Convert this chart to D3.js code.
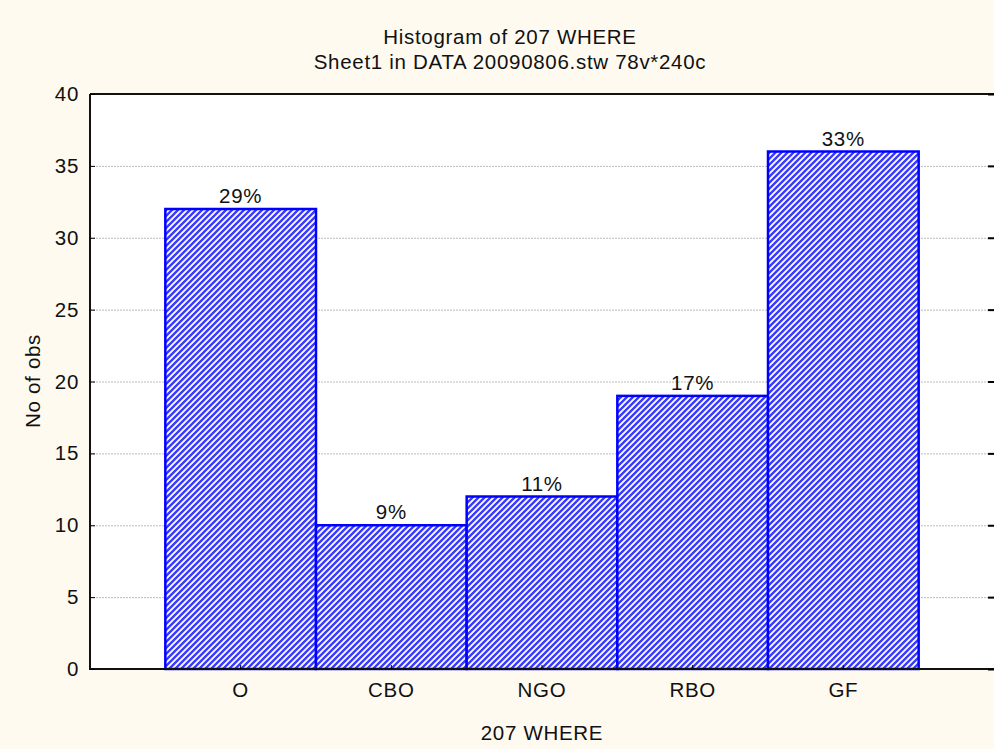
<!DOCTYPE html>
<html>
<head>
<meta charset="utf-8">
<script src="https://cdn.jsdelivr.net/npm/d3@7"></script>
<style>
  body { margin: 0; background: #fffaf0; }
  text { font-family: "Liberation Sans", Arial, sans-serif; fill: #111; letter-spacing: 0.7px; }
</style>
</head>
<body>
<div id="chart"></div>
<script>
var categories = ["O", "CBO", "NGO", "RBO", "GF"];
var counts = [32, 10, 12, 19, 36];
var percents = ["29%", "9%", "11%", "17%", "33%"];
var yTicks = [0, 5, 10, 15, 20, 25, 30, 35, 40];

var svgWidth = 994;
var svgHeight = 749;
var fontSize = "20.5px";

var margin = { top: 94, right: 0, bottom: 80, left: 90 };
var width = svgWidth - margin.left - margin.right;
var height = svgHeight - margin.top - margin.bottom;

var svg = d3.select("#chart")
    .append("svg")
    .attr("width", svgWidth)
    .attr("height", svgHeight);

svg.append("rect")
    .attr("width", svgWidth)
    .attr("height", svgHeight)
    .attr("fill", "#fffaf0");

// hatch pattern
var defs = svg.append("defs");
var pat = defs.append("pattern")
    .attr("id", "hatch")
    .attr("patternUnits", "userSpaceOnUse")
    .attr("width", 6)
    .attr("height", 6);
pat.append("rect").attr("width", 6).attr("height", 6).attr("fill", "#ffffff");
pat.append("path")
    .attr("d", "M-1,1 l2,-2 M0,6 l6,-6 M5,7 l2,-2")
    .attr("stroke", "#3a3aff")
    .attr("stroke-width", 2.4);

var chartGroup = svg.append("g")
    .attr("transform", `translate(${margin.left}, ${margin.top})`);

var xScale = d3.scaleBand()
    .domain(categories)
    .range([0, width])
    .paddingInner(0)
    .paddingOuter(0.5);

var yScale = d3.scaleLinear()
    .domain([0, 40])
    .range([height, 0]);

chartGroup.append("rect")
    .attr("width", width)
    .attr("height", height)
    .attr("fill", "#ffffff");

// grid
chartGroup.selectAll(".grid")
    .data(yTicks.filter(d => d > 0 && d < 40))
    .enter()
    .append("line")
    .attr("x1", 0)
    .attr("x2", width)
    .attr("y1", d => yScale(d) + 0.5)
    .attr("y2", d => yScale(d) + 0.5)
    .attr("stroke", "#bbbbbb")
    .attr("stroke-dasharray", "2,1");

// bars
chartGroup.selectAll(".bar")
    .data(categories)
    .enter()
    .append("rect")
    .attr("x", d => xScale(d))
    .attr("y", (d, i) => yScale(counts[i]))
    .attr("width", xScale.bandwidth())
    .attr("height", (d, i) => height - yScale(counts[i]))
    .attr("fill", "url(#hatch)")
    .attr("stroke", "#0000ff")
    .attr("stroke-width", 2.5);

// percent labels
chartGroup.selectAll(".pct")
    .data(categories)
    .enter()
    .append("text")
    .attr("x", d => xScale(d) + xScale.bandwidth() / 2)
    .attr("y", (d, i) => yScale(counts[i]) - 6)
    .attr("text-anchor", "middle")
    .attr("font-size", fontSize)
    .text((d, i) => percents[i]);

// frame
chartGroup.append("path")
    .attr("d", `M0,0 H${width} M0,0 V${height} H${width}`)
    .attr("fill", "none")
    .attr("stroke", "#111")
    .attr("stroke-width", 2);

// y axis (ticks inward)
var leftAxis = d3.axisLeft(yScale)
    .tickValues(yTicks)
    .tickSize(-5)
    .tickPadding(11);
var yAxisG = chartGroup.append("g").call(leftAxis);
yAxisG.select(".domain").remove();
yAxisG.selectAll("text")
    .attr("font-size", fontSize)
    .attr("font-family", "Liberation Sans, Arial, sans-serif")
    .attr("fill", "#111");

// right ticks
var rightAxis = d3.axisRight(yScale)
    .tickValues(yTicks)
    .tickSize(-6)
    .tickFormat("");
var rAxisG = chartGroup.append("g")
    .attr("transform", `translate(${width}, 0)`)
    .call(rightAxis);
rAxisG.select(".domain").remove();
rAxisG.selectAll("line").attr("stroke-width", 2);

// x axis (ticks inward)
var bottomAxis = d3.axisBottom(xScale)
    .tickSize(-4)
    .tickPadding(13);
var xAxisG = chartGroup.append("g")
    .attr("transform", `translate(0, ${height})`)
    .call(bottomAxis);
xAxisG.select(".domain").remove();
xAxisG.selectAll("text")
    .attr("font-size", fontSize)
    .attr("font-family", "Liberation Sans, Arial, sans-serif")
    .attr("fill", "#111");

// titles
svg.append("text")
    .attr("x", 510)
    .attr("y", 44)
    .attr("text-anchor", "middle")
    .attr("font-size", fontSize)
    .text("Histogram of 207 WHERE");

svg.append("text")
    .attr("x", 510)
    .attr("y", 69)
    .attr("text-anchor", "middle")
    .attr("font-size", fontSize)
    .text("Sheet1 in DATA 20090806.stw 78v*240c");

svg.append("text")
    .attr("transform", "rotate(-90)")
    .attr("x", -381)
    .attr("y", 40)
    .attr("text-anchor", "middle")
    .attr("font-size", fontSize)
    .text("No of obs");

svg.append("text")
    .attr("x", 542)
    .attr("y", 740)
    .attr("text-anchor", "middle")
    .attr("font-size", fontSize)
    .text("207 WHERE");
</script>
</body>
</html>
